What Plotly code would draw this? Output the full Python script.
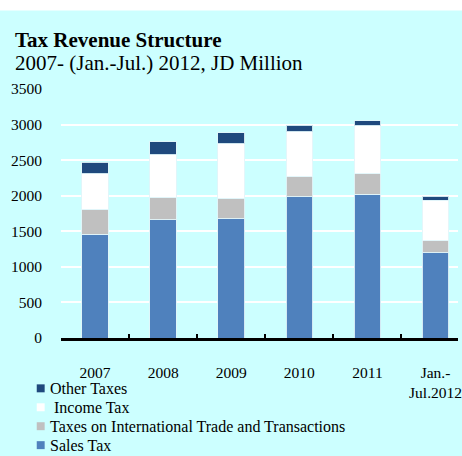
import plotly.graph_objects as go

# Tax revenue by component, JD million
categories = ["2007", "2008", "2009", "2010", "2011", "Jan.-<br>Jul.2012"]
sales_tax = [1456, 1661, 1675, 1984, 2022, 1198]
trade_taxes = [355, 314, 290, 286, 290, 168]
income_tax = [495, 599, 768, 631, 668, 571]
other_taxes = [165, 182, 150, 89, 76, 57]

series_names = ["Sales Tax", "Taxes on International Trade and Transactions",
                "\u00a0Income Tax", "Other Taxes"]
series_values = [sales_tax, trade_taxes, income_tax, other_taxes]
series_colors = ["#4F81BD", "#C0C0C0", "#FFFFFF", "#1F497D"]

y_ticks = [0, 500, 1000, 1500, 2000, 2500, 3000, 3500]

W, H = 462, 456
L, R, T, B = 61, 0, 88.7, 117.5
PW, PH = W - L - R, H - T - B
FONT = "Liberation Serif, Times New Roman, serif"
BG = "#CCFFFF"


def px_x(px):
    return (px - L) / PW


def px_y(py):
    return (H - B - py) / PH


fig = go.Figure()
for name, vals, col in zip(series_names, series_values, series_colors):
    fig.add_trace(go.Bar(
        x=categories, y=vals, name=name, showlegend=False,
        marker=dict(color=col, line=dict(color="rgba(225,245,250,0.9)", width=1)),
    ))

shapes = [
    # white strip along the top edge
    dict(type="rect", xref="paper", yref="paper", x0=px_x(-5), x1=px_x(W + 5),
         y0=px_y(10), y1=px_y(-5), fillcolor="white", line=dict(width=0), layer="below"),
]
annotations = [
    dict(text="<b>Tax Revenue Structure</b>", x=px_x(13), y=px_y(40),
         xref="paper", yref="paper", xanchor="left", yanchor="middle",
         showarrow=False, font=dict(size=21, color="black", family=FONT)),
    dict(text="2007- (Jan.-Jul.) 2012, JD Million", x=px_x(13), y=px_y(63),
         xref="paper", yref="paper", xanchor="left", yanchor="middle",
         showarrow=False, font=dict(size=21, color="black", family=FONT)),
]

# legend: top series first
legend_rows = [389, 408, 427, 446]
for row_y, name, col in zip(legend_rows, series_names[::-1], series_colors[::-1]):
    shapes.append(dict(type="rect", xref="paper", yref="paper",
                       x0=px_x(36.5), x1=px_x(44.5), y0=px_y(row_y + 4), y1=px_y(row_y - 4),
                       fillcolor=col, line=dict(width=0)))
    annotations.append(dict(text=name, x=px_x(48), y=px_y(row_y), xref="paper", yref="paper",
                            xanchor="left", yanchor="middle", showarrow=False,
                            font=dict(size=16, color="black", family=FONT)))

fig.update_layout(
    barmode="stack",
    bargap=0.61,
    width=W, height=H,
    margin=dict(l=L, r=R, t=T, b=B, pad=0),
    paper_bgcolor=BG, plot_bgcolor=BG,
    font=dict(family=FONT, size=15.5, color="black"),
    showlegend=False,
    shapes=shapes,
    annotations=annotations,
    xaxis=dict(
        type="category", range=[-0.5, 5.33],
        showline=True, linecolor="black", linewidth=3,
        ticks="inside", tickson="boundaries", ticklen=4, tickwidth=2, tickcolor="black",
        showgrid=False, ticklabelstandoff=18,
        tickfont=dict(size=15.5, family=FONT, color="black"),
    ),
    yaxis=dict(
        range=[0, 3500], tickvals=y_ticks, ticktext=[str(v) for v in y_ticks],
        showgrid=True, gridcolor="white", gridwidth=2,
        zeroline=False, showline=False, ticks="",
        ticklabelstandoff=18,
        tickfont=dict(size=15.5, family=FONT, color="black"),
    ),
)

fig.write_html("out.html")
